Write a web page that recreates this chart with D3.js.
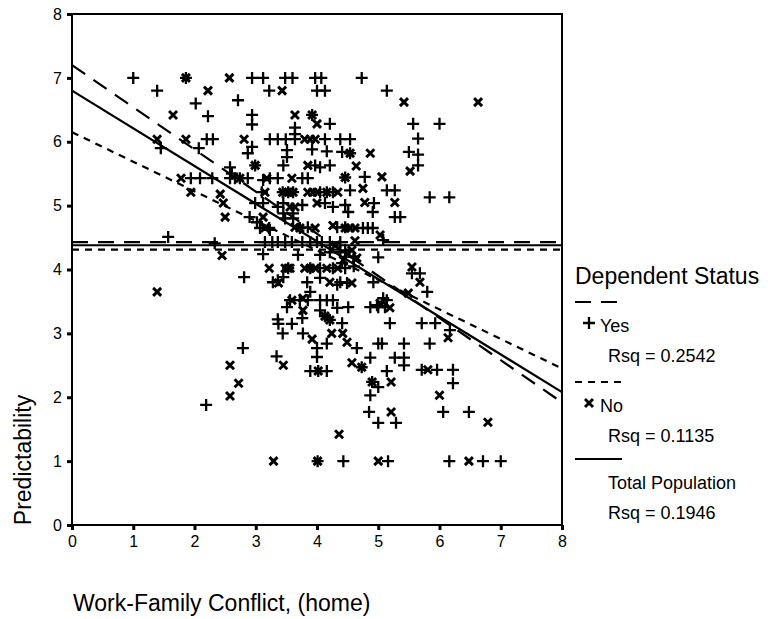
<!DOCTYPE html>
<meta charset="utf-8">
<title>Predictability vs Work-Family Conflict</title>
<style>

body {
  margin: 0px;
  background: #fff;
}

svg {
  font-family: "Liberation Sans", Arial, sans-serif;
}

.axis path {
  display: none;
}

.axis line {
  stroke: #000;
  stroke-width: 3;
}

.axis text {
  font-size: 16px;
  fill: #000;
}

.mark {
  fill: none;
  stroke: #000;
}

</style>

<script src="https://d3js.org/d3.v7.min.js"></script>

<body>

<script>

var width = 768, height = 619;

// Tick labels
var xTicks = [0, 1, 2, 3, 4, 5, 6, 7, 8];
var yTicks = [0, 1, 2, 3, 4, 5, 6, 7, 8];

// Dependent status = Yes  (x: work-family conflict, y: predictability)
var yesPoints = [
  [1.0,7],[1.86,7],[2.94,7],[3.12,7],[3.48,7],[3.6,7],[3.97,7],[4.07,7],[4.73,7],
  [1.39,6.8],[3.22,6.8],[4.0,6.8],[4.13,6.8],[5.14,6.8],
  [2.02,6.6],[2.71,6.65],
  [2.22,6.4],[2.94,6.42],[3.92,6.42],
  [2.94,6.27],[3.64,6.22],[3.64,6.12],[4.21,6.28],[5.57,6.28],[6.0,6.28],
  [2.2,6.04],[2.3,6.04],[3.23,6.04],[3.36,6.04],[3.49,6.04],[3.64,6.04],[4.13,6.04],[4.38,6.04],[4.54,6.04],[5.65,6.05],
  [1.45,5.9],[2.07,5.9],[2.94,5.92],[2.87,5.82],[3.51,5.87],[3.51,5.76],[3.92,5.88],[4.16,5.85],[4.41,5.84],[4.54,5.82],[5.5,5.84],[5.65,5.8],
  [2.58,5.6],[2.99,5.63],[3.45,5.63],[3.97,5.63],[4.05,5.6],[4.21,5.63],[5.65,5.63],[2.61,5.5],
  [1.94,5.43],[2.09,5.43],[2.29,5.43],[2.58,5.43],[2.66,5.43],[2.74,5.43],[2.87,5.43],[3.12,5.4],[3.23,5.43],[3.36,5.43],[3.76,5.43],[3.85,5.43],[4.46,5.44],[4.78,5.45],
  [3.1,5.21],[3.44,5.21],[3.53,5.21],[3.61,5.21],[4.05,5.21],[4.16,5.21],[4.26,5.21],[4.54,5.24],[5.14,5.24],[5.27,5.24],
  [5.84,5.13],[6.16,5.13],
  [2.99,5.04],[3.12,5.04],[3.36,4.98],[3.45,5.04],[3.76,5.01],[4.13,5.04],[4.26,4.98],[4.46,5.01],[4.93,5.04],
  [2.9,4.82],[3.45,4.88],[3.61,4.88],[3.48,4.8],[3.61,4.8],[4.51,4.9],[4.91,4.9],[5.27,4.82],[5.36,4.82],
  [3.02,4.74],[3.07,4.65],[3.22,4.65],[3.23,4.62],[3.85,4.66],[3.72,4.65],[4.33,4.66],[4.46,4.66],[4.75,4.65],[4.83,4.65],[4.91,4.65],
  [1.57,4.51],[2.33,4.41],[3.15,4.43],[3.27,4.43],[3.36,4.43],[3.48,4.43],[3.59,4.43],[3.76,4.43],[3.89,4.43],[4.0,4.43],[4.08,4.43],[4.21,4.43],[4.38,4.43],[5.08,4.46],
  [3.12,4.24],[3.69,4.23],[4.05,4.23],[4.21,4.27],[4.38,4.27],[4.46,4.3],[4.6,4.2],[5.0,4.19],[4.41,4.1],
  [3.53,4.02],[3.89,4.02],[4.05,4.02],[4.26,4.02],[4.46,4.02],[4.6,4.05],
  [2.81,3.88],[3.28,3.8],[3.36,3.83],[3.45,3.88],[3.84,3.8],[4.05,3.87],[4.33,3.76],[4.38,3.8],[4.49,3.79],[4.92,3.8],[5.55,3.94],[5.68,3.94],
  [3.56,3.52],[3.72,3.52],[3.85,3.52],[3.89,3.65],[4.05,3.52],[4.16,3.52],[4.26,3.52],[5.08,3.55],[5.14,3.52],[5.8,3.65],
  [3.51,3.41],[4.05,3.36],[4.33,3.4],[4.51,3.41],[4.87,3.41],[4.98,3.44],[5.0,3.41],[5.11,3.41],
  [3.36,3.22],[3.37,3.15],[3.59,3.15],[3.76,3.24],[4.13,3.27],[4.21,3.21],[4.41,3.16],[5.19,3.16],[5.71,3.16],[5.93,3.16],
  [3.44,3.0],[3.77,3.0],[6.17,3.05],
  [2.79,2.77],[4.0,2.77],[4.16,2.84],[4.65,2.77],[5.0,2.84],[5.06,2.84],[5.42,2.84],[5.84,2.84],
  [3.34,2.64],[4.0,2.63],[4.87,2.62],[5.27,2.62],[5.42,2.62],[5.42,2.5],
  [3.89,2.41],[4.02,2.41],[4.16,2.41],[5.14,2.41],[5.71,2.43],[5.96,2.43],[6.22,2.43],[4.73,2.47],
  [4.9,2.24],[5.0,2.16],[6.22,2.22],
  [4.87,2.03],
  [2.19,1.88],
  [4.85,1.77],[6.06,1.77],[6.48,1.77],
  [5.0,1.6],[5.29,1.6],
  [4.01,1.0],[4.43,1.0],[5.16,1.0],[6.16,1.0],[6.71,1.0],[7.0,1.0]
];

// Dependent status = No
var noPoints = [
  [1.86,7],[2.57,7],
  [2.22,6.8],[3.43,6.8],
  [5.42,6.62],[6.63,6.62],
  [1.65,6.42],[3.64,6.42],[3.92,6.42],[4.0,6.28],
  [1.39,6.04],[1.86,6.04],[2.81,6.04],[3.8,6.04],[3.89,6.04],[3.97,6.04],
  [4.54,5.82],[4.87,5.82],
  [2.99,5.63],[3.85,5.63],[4.64,5.62],[5.52,5.54],
  [1.78,5.43],[2.74,5.43],[3.18,5.43],[3.59,5.43],[4.46,5.44],[5.06,5.45],
  [1.94,5.21],[2.42,5.18],[3.15,5.21],[3.44,5.21],[3.53,5.21],[3.61,5.21],[3.85,5.21],[3.93,5.21],[4.0,5.21],[4.16,5.21],[4.34,5.21],[4.75,5.27],
  [2.47,5.04],[3.56,4.98],[3.64,4.98],[4.0,5.04],[4.78,5.05],[5.27,5.05],
  [2.5,4.82],[3.12,4.82],
  [3.15,4.65],[3.64,4.66],[3.72,4.65],[3.97,4.65],[4.26,4.69],[4.46,4.65],[4.54,4.65],[4.62,4.65],[5.03,4.54],
  [4.3,4.38],[4.62,4.45],
  [2.45,4.22],[4.5,4.25],[4.57,4.3],[4.65,4.18],[4.43,4.15],
  [3.22,4.02],[3.48,4.02],[3.53,4.02],[3.56,4.02],[3.8,4.02],[3.89,4.02],[3.97,4.02],[4.16,4.02],[4.34,4.02],[5.55,4.04],
  [3.37,3.79],[4.21,3.8],[4.57,3.79],[5.68,3.8],
  [1.39,3.65],[3.59,3.52],[3.77,3.55],[5.03,3.47],[5.49,3.63],
  [3.77,3.36],[5.19,3.4],
  [4.13,3.27],[4.21,3.21],
  [4.24,3.0],[4.42,3.0],[6.14,2.93],[3.92,2.91],
  [4.49,2.86],
  [2.58,2.5],[3.45,2.5],[4.57,2.54],[4.73,2.47],
  [4.02,2.41],[5.81,2.43],
  [2.72,2.22],[4.9,2.24],[5.21,2.24],
  [2.58,2.02],[6.0,2.03],
  [5.21,1.77],
  [6.79,1.61],
  [4.36,1.42],
  [3.29,1.0],[4.01,1.0],[5.0,1.0],[6.48,1.0]
];

// Fitted lines: linear fit and mean line for each group
var fitNames      = ["Yes", "No", "Total Population"];
var fitIntercepts = [7.2, 6.15, 6.8];
var fitSlopes     = [-0.66, -0.4625, -0.59];
var fitMeans      = [4.43, 4.31, 4.38];
var fitRsq        = ["0.2542", "0.1135", "0.1946"];
var fitDash       = ["16,10", "7,6", null];

var svg = d3.select("body").append("svg")
    .attr("width", width)
    .attr("height", height);

var x = d3.scaleLinear().domain([0, 8]).range([72, 562]);
var y = d3.scaleLinear().domain([0, 8]).range([525, 14]);

// axes (little square ticks, outside the frame)
svg.append("g")
    .attr("class", "axis")
    .attr("transform", "translate(0,525)")
    .call(d3.axisBottom(x).tickValues(xTicks).tickSize(5).tickPadding(6).tickFormat(d3.format("d")));

svg.append("g")
    .attr("class", "axis")
    .attr("transform", "translate(72,0)")
    .call(d3.axisLeft(y).tickValues(yTicks).tickSize(5).tickPadding(5).tickFormat(d3.format("d")));

// regression + mean lines
var plot = svg.append("g");

var line = d3.line()
    .x(function(d) { return x(d[0]); })
    .y(function(d) { return y(d[1]); });

fitNames.forEach(function(name, i) {
  var fit = [[0, fitIntercepts[i]], [8, fitIntercepts[i] + 8 * fitSlopes[i]]];
  var mean = [[0, fitMeans[i]], [8, fitMeans[i]]];
  [fit, mean].forEach(function(pts) {
    plot.append("path")
        .attr("class", "mark")
        .attr("d", line(pts))
        .attr("stroke-width", 2.2)
        .attr("stroke-dasharray", fitDash[i]);
  });
});

// markers
var plusPath = "M-6,0H6M0,-6V6";
var crossPath = "M-4,-4L4,4M-4,4L4,-4";

plot.selectAll("path.yes")
    .data(yesPoints)
  .enter().append("path")
    .attr("class", "mark yes")
    .attr("d", plusPath)
    .attr("stroke-width", 2.3)
    .attr("transform", function(d) { return "translate(" + x(d[0]) + "," + y(d[1]) + ")"; });

plot.selectAll("path.no")
    .data(noPoints)
  .enter().append("path")
    .attr("class", "mark no")
    .attr("d", crossPath)
    .attr("stroke-width", 2.9)
    .attr("transform", function(d) { return "translate(" + x(d[0]) + "," + y(d[1]) + ")"; });

// frame
svg.append("rect")
    .attr("x", x(0))
    .attr("y", y(8))
    .attr("width", x(8) - x(0))
    .attr("height", y(0) - y(8))
    .attr("fill", "none")
    .attr("stroke", "#000")
    .attr("stroke-width", 2);

// axis titles
svg.append("text")
    .attr("x", 73)
    .attr("y", 611)
    .attr("font-size", 23)
    .text("Work-Family Conflict, (home)");

svg.append("text")
    .attr("transform", "translate(31,460) rotate(-90)")
    .attr("text-anchor", "middle")
    .attr("font-size", 23)
    .text("Predictability");

// legend
var legend = svg.append("g");

legend.append("text")
    .attr("x", 575)
    .attr("y", 284)
    .attr("font-size", 23)
    .text("Dependent Status");

var rowTop = [302, 382, 459];
var markerPaths = [plusPath, crossPath, null];

fitNames.forEach(function(name, i) {
  var top = rowTop[i];
  legend.append("path")
      .attr("class", "mark")
      .attr("d", "M575," + top + "H622")
      .attr("stroke-width", 2.2)
      .attr("stroke-dasharray", fitDash[i]);
  if (markerPaths[i]) {
    legend.append("path")
        .attr("class", "mark")
        .attr("d", markerPaths[i])
        .attr("stroke-width", i == 0 ? 2.3 : 2.9)
        .attr("transform", "translate(589," + (top + 21) + ")");
  }
  legend.append("text")
      .attr("x", markerPaths[i] ? 600 : 608)
      .attr("y", top + 30)
      .attr("font-size", 18)
      .text(name);
  legend.append("text")
      .attr("x", 608)
      .attr("y", top + 60)
      .attr("font-size", 18)
      .text("Rsq = " + fitRsq[i]);
});

</script>
